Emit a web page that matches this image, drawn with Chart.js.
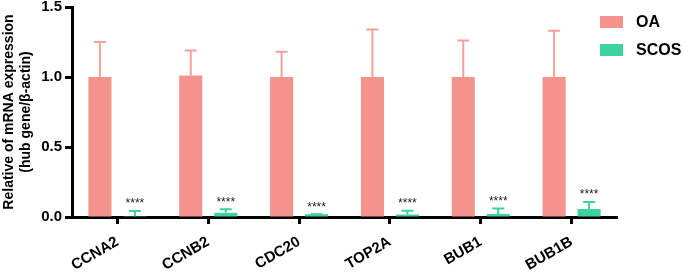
<!DOCTYPE html>
<html>
<head>
<meta charset="utf-8">
<script src="https://cdn.jsdelivr.net/npm/chart.js@4"></script>
<style>
  html, body { margin: 0; padding: 0; background: #fff; }
  #wrap { width: 685px; height: 273px; }
</style>
</head>
<body>
<div id="wrap"><canvas id="qpcrChart" width="685" height="273"></canvas></div>
<script>
const genes = ['CCNA2', 'CCNB2', 'CDC20', 'TOP2A', 'BUB1', 'BUB1B'];
const oaMean = [1.0, 1.01, 1.0, 1.0, 1.0, 1.0];
const oaErr = [0.25, 0.18, 0.18, 0.34, 0.26, 0.33];
const scosMean = [0.006, 0.03, 0.02, 0.018, 0.022, 0.057];
const scosErr = [0.037, 0.025, 0.0, 0.027, 0.038, 0.05];
const yTicks = [0, 0.5, 1.0, 1.5];
const sigLabels = ['****', '****', '****', '****', '****', '****'];

const oaColor = '#F4938B';
const scosColor = '#3DD29F';
const fontFam = '"Liberation Sans", Arial, sans-serif';

// error bars + significance stars
const errorBarPlugin = {
    id: 'errorBars',
    afterDatasetsDraw(chart) {
        const ctx = chart.ctx;
        const yScale = chart.scales.y;
        const sets = [
            { idx: 0, mean: oaMean, err: oaErr, color: '#F5A19B' },
            { idx: 1, mean: scosMean, err: scosErr, color: scosColor }
        ];
        ctx.save();
        sets.forEach(s => {
            const meta = chart.getDatasetMeta(s.idx);
            meta.data.forEach((bar, i) => {
                const yBase = yScale.getPixelForValue(s.mean[i]);
                const yTop = yScale.getPixelForValue(s.mean[i] + s.err[i]);
                ctx.strokeStyle = s.color;
                ctx.lineWidth = 2;
                ctx.beginPath();
                ctx.moveTo(bar.x, yBase);
                ctx.lineTo(bar.x, yTop);
                ctx.moveTo(bar.x - 6, yTop);
                ctx.lineTo(bar.x + 6, yTop);
                ctx.stroke();
                if (s.idx === 1) {
                    ctx.fillStyle = '#222';
                    ctx.font = '12px ' + fontFam;
                    ctx.textAlign = 'center';
                    ctx.textBaseline = 'bottom';
                    ctx.fillText(sigLabels[i], bar.x, yTop - 1);
                }
            });
        });
        ctx.restore();
    }
};

// legend drawn at the top right, overlapping the end of the x axis
const sideLegend = {
    id: 'sideLegend',
    afterDraw(chart) {
        const ctx = chart.ctx;
        const items = [['OA', oaColor], ['SCOS', scosColor]];
        ctx.save();
        items.forEach((it, i) => {
            const y = 16 + i * 28;
            ctx.fillStyle = it[1];
            ctx.fillRect(600, y, 23, 12);
            ctx.fillStyle = '#000';
            ctx.font = 'bold 16px ' + fontFam;
            ctx.textAlign = 'left';
            ctx.textBaseline = 'middle';
            ctx.fillText(it[0], 636, y + 6.5);
        });
        ctx.restore();
    }
};

const ctx = document.getElementById('qpcrChart').getContext('2d');
new Chart(ctx, {
    type: 'bar',
    data: {
        labels: genes,
        datasets: [
            {
                label: 'OA',
                data: oaMean,
                backgroundColor: oaColor,
                categoryPercentage: 0.77,
                barPercentage: 0.66
            },
            {
                label: 'SCOS',
                data: scosMean,
                backgroundColor: scosColor,
                categoryPercentage: 0.77,
                barPercentage: 0.66
            }
        ]
    },
    options: {
        responsive: false,
        animation: false,
        layout: { padding: { top: 7, right: 68, left: 0, bottom: 0 } },
        plugins: {
            legend: { display: false },
            tooltip: { enabled: false }
        },
        scales: {
            x: {
                border: { color: '#000', width: 3 },
                grid: {
                    display: true,
                    offset: false,
                    drawOnChartArea: false,
                    drawTicks: true,
                    tickLength: 7,
                    tickWidth: 3,
                    tickColor: '#000'
                },
                ticks: {
                    color: '#000',
                    maxRotation: 30,
                    minRotation: 30,
                    padding: 9,
                    font: { family: fontFam, size: 15, weight: 'bold' }
                },
                afterFit(scale) {
                    scale.height = 56;
                    scale.paddingLeft = 0;
                    scale.paddingRight = 0;
                }
            },
            y: {
                min: 0,
                max: 1.5,
                afterBuildTicks(scale) {
                    scale.ticks = yTicks.map(v => ({ value: v }));
                },
                border: { color: '#000', width: 3 },
                grid: {
                    display: true,
                    drawOnChartArea: false,
                    drawTicks: true,
                    tickLength: 7,
                    tickWidth: 3,
                    tickColor: '#000'
                },
                ticks: {
                    color: '#000',
                    padding: 3,
                    callback: v => v.toFixed(1),
                    font: { family: fontFam, size: 15, weight: 'bold' }
                },
                title: {
                    display: true,
                    text: ['Relative of mRNA expression', '(hub gene/β-actin)'],
                    color: '#000',
                    padding: { top: 0, bottom: 2 },
                    font: { family: fontFam, size: 14, weight: 'bold', lineHeight: 1.25 }
                },
                afterFit(scale) {
                    scale.width = 72;
                    scale.paddingTop = 0;
                    scale.paddingBottom = 0;
                }
            }
        }
    },
    plugins: [errorBarPlugin, sideLegend]
});
</script>
</body>
</html>
